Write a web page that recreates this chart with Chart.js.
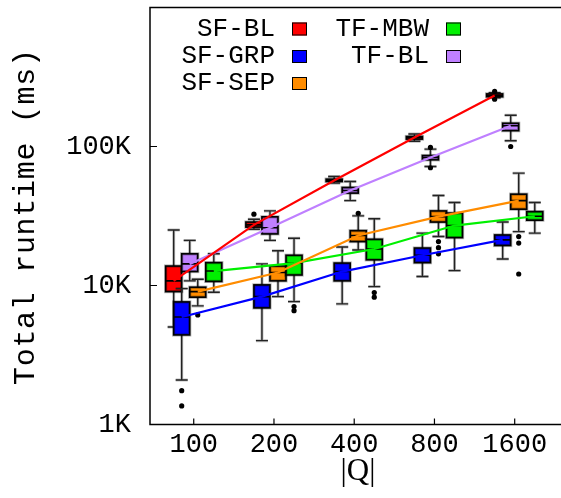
<!DOCTYPE html>
<html>
<head>
<meta charset="utf-8">
<script src="https://cdn.jsdelivr.net/npm/chart.js@4.4.0/dist/chart.umd.min.js"></script>
<style>
	html, body { margin: 0; padding: 0; background: #fff; }
	#wrap { width: 561px; height: 498px; }
</style>
</head>
<body>
<div id="wrap"><canvas id="grafico"></canvas></div>
<script>
// Categories of the x axis (|Q|) and y ticks
const categories = ["100", "200", "400", "800", "1600"];
const yTicks = [1000, 10000, 100000];

// Per category: [low whisker, q1, median, q3, high whisker] in ms
const sfBl = [[5030, 9040, 10800, 13800, 25100], [25400, 26300, 27300, 28600, 30000], [54500, 56000, 56900, 58200, 60800], [109000, 113000, 116000, 118000, 123000], [224000, 228000, 233000, 239000, 244000]];
const sfGrp = [[2090, 4410, 5940, 7620, 9500], [4010, 6900, 8320, 10100, 14300], [7370, 10800, 12600, 14500, 18900], [11600, 14600, 16500, 18600, 23800], [15500, 19400, 21300, 23100, 28600]];
const sfSep = [[7130, 8240, 9040, 9720, 11100], [8320, 10800, 12400, 13800, 17800], [18000, 20700, 22900, 24800, 31700], [22500, 28600, 31300, 34400, 44400], [24400, 35400, 40800, 45400, 64300]];
const tfMbw = [[8950, 10700, 12700, 14600, 16900], [7660, 11900, 14500, 16500, 21900], [9820, 15300, 18300, 21500, 30200], [12800, 22100, 27000, 33200, 39500], [23800, 29500, 31500, 34000, 39500]];
const tfBl = [[10800, 12600, 14300, 16900, 21100], [21100, 23500, 26000, 31200, 34400], [40800, 46200, 48200, 50700, 56000], [71800, 80200, 83400, 86100, 95700], [110000, 130000, 141000, 147000, 168000]];

// Outliers per category
const sfBlOut = [[], [32600], [], [], [249000, 219000]];
const sfGrpOut = [[1750, 1360], [], [], [], []];
const sfSepOut = [[6140], [], [33100], [20700, 18700, 16900], [22500, 20200, 12100]];
const tfMbwOut = [[], [7050, 6590], [8890, 8240], [], []];
const tfBlOut = [[], [], [], [98400, 70300], [100000]];

// Series, in drawing order
const series = [
	{ label: "SF-BL", stats: sfBl, out: sfBlOut, color: "#ff0000", offset: -0.25 },
	{ label: "SF-GRP", stats: sfGrp, out: sfGrpOut, color: "#0000ff", offset: -0.15 },
	{ label: "TF-BL", stats: tfBl, out: tfBlOut, color: "#bf80ff", offset: -0.05 },
	{ label: "SF-SEP", stats: sfSep, out: sfSepOut, color: "#ff8c00", offset: 0.05 },
	{ label: "TF-MBW", stats: tfMbw, out: tfMbwOut, color: "#00f000", offset: 0.25 },
];
const legendCols = [["SF-BL", "SF-GRP", "SF-SEP"], ["TF-MBW", "TF-BL"]];

const boxWidth = 0.2;
const capWidth = 0.15;
const monoFont = '"Liberation Mono", "DejaVu Sans Mono", monospace';

// Box plots drawn under the median lines
const boxPlugin = {
	id: "boxes",
	beforeDatasetsDraw(chart) {
		const { ctx, chartArea, scales } = chart;
		const x = scales.x;
		const y = scales.y;
		ctx.save();
		ctx.beginPath();
		ctx.rect(chartArea.left, chartArea.top, chartArea.right - chartArea.left, chartArea.bottom - chartArea.top);
		ctx.clip();
		for (const s of series) {
			s.stats.forEach((st, i) => {
				const cx = x.getPixelForValue(i + s.offset);
				const hw = x.getPixelForValue(i + s.offset + boxWidth / 2) - cx;
				const cw = x.getPixelForValue(i + s.offset + capWidth / 2) - cx;
				const [lo, q1, med, q3, hi] = st.map((v) => y.getPixelForValue(v));

				// whiskers
				for (const pass of [["rgba(0,0,0,0.25)", 3], ["#222", 1.4]]) {
					ctx.strokeStyle = pass[0];
					ctx.lineWidth = pass[1];
					ctx.beginPath();
					ctx.moveTo(cx, lo); ctx.lineTo(cx, q1);
					ctx.moveTo(cx, q3); ctx.lineTo(cx, hi);
					ctx.moveTo(cx - cw, lo); ctx.lineTo(cx + cw, lo);
					ctx.moveTo(cx - cw, hi); ctx.lineTo(cx + cw, hi);
					ctx.stroke();
				}

				// box
				ctx.fillStyle = s.color;
				ctx.fillRect(cx - hw, q3, hw * 2, q1 - q3);
				ctx.strokeStyle = "rgba(0,0,0,0.3)";
				ctx.lineWidth = 3.2;
				ctx.strokeRect(cx - hw, q3, hw * 2, q1 - q3);
				ctx.strokeStyle = "#000";
				ctx.lineWidth = 1.6;
				ctx.strokeRect(cx - hw, q3, hw * 2, q1 - q3);
				ctx.beginPath();
				ctx.moveTo(cx - hw, med); ctx.lineTo(cx + hw, med);
				ctx.stroke();

				// outliers
				ctx.fillStyle = "#000";
				for (const o of s.out[i]) {
					ctx.beginPath();
					ctx.arc(cx, y.getPixelForValue(o), 2.6, 0, Math.PI * 2);
					ctx.fill();
				}
			});
		}
		ctx.restore();
	},
	afterDraw(chart) {
		const { ctx, chartArea, scales } = chart;
		const x = scales.x;
		const y = scales.y;
		ctx.save();

		// frame (no right side)
		ctx.strokeStyle = "#000";
		ctx.lineWidth = 1.5;
		ctx.beginPath();
		ctx.moveTo(chartArea.right, chartArea.top);
		ctx.lineTo(chartArea.left, chartArea.top);
		ctx.lineTo(chartArea.left, chartArea.bottom);
		ctx.lineTo(chartArea.right, chartArea.bottom);
		ctx.stroke();

		// inward ticks
		ctx.lineWidth = 1.2;
		ctx.beginPath();
		categories.forEach((c, i) => {
			const px = x.getPixelForValue(i);
			ctx.moveTo(px, chartArea.bottom);
			ctx.lineTo(px, chartArea.bottom - 6);
		});
		yTicks.forEach((t) => {
			const py = y.getPixelForValue(t);
			ctx.moveTo(chartArea.left, py);
			ctx.lineTo(chartArea.left + 7, py);
		});
		ctx.stroke();

		// legend
		ctx.font = "26px " + monoFont;
		ctx.textAlign = "right";
		ctx.textBaseline = "middle";
		ctx.fillStyle = "#000";
		const colText = [275, 429];
		const colBox = [292, 446];
		const rowY = [29, 56.5, 83.5];
		legendCols.forEach((col, c) => {
			col.forEach((name, r) => {
				const s = series.find((e) => e.label == name);
				ctx.fillStyle = "#000";
				ctx.fillText(name, colText[c], rowY[r]);
				ctx.fillStyle = s.color;
				ctx.fillRect(colBox[c], rowY[r] - 6.5, 15, 13);
				ctx.lineWidth = 1;
				ctx.strokeStyle = "#000";
				ctx.strokeRect(colBox[c] + 0.5, rowY[r] - 6, 14, 12);
			});
		});

		// axis titles
		ctx.fillStyle = "#000";
		ctx.font = "30px " + monoFont;
		ctx.textAlign = "left";
		ctx.textBaseline = "alphabetic";
		ctx.save();
		ctx.translate(34, 385);
		ctx.rotate(-Math.PI / 2);
		ctx.letterSpacing = "0.7px";
		ctx.fillText("Total runtime (ms)", 0, 0);
		ctx.restore();

		ctx.font = '31px "Liberation Serif", serif';
		ctx.textAlign = "center";
		ctx.textBaseline = "middle";
		ctx.fillText("|Q|", 358, 472);
		ctx.restore();
	},
};

// Median lines
const datasets = series.map((s) => ({
	label: s.label,
	data: s.stats.map((st, i) => ({ x: i + s.offset, y: st[2] })),
	borderColor: s.color,
	backgroundColor: s.color,
	borderWidth: 2.2,
	pointRadius: 0,
	tension: 0,
}));

let grafico = new Chart(document.getElementById("grafico"), {
	type: "line",
	data: { datasets: datasets },
	plugins: [boxPlugin],
	options: {
		responsive: true,
		maintainAspectRatio: false,
		animation: false,
		layout: { padding: { top: 7.5, left: 0, right: 0, bottom: 0 } },
		plugins: {
			legend: { display: false },
			tooltip: { enabled: false },
		},
		scales: {
			x: {
				type: "linear",
				min: -0.545,
				max: 4.577,
				grid: { display: false, drawTicks: false },
				border: { display: false },
				afterBuildTicks: (s) => {
					s.ticks = categories.map((c, i) => ({ value: i }));
				},
				afterFit: (s) => {
					s.height = 73.5;
					s.paddingLeft = 0;
					s.paddingRight = 0;
				},
				ticks: {
					autoSkip: false,
					maxRotation: 0,
					padding: 4,
					color: "#000",
					font: { family: monoFont, size: 27 },
					callback: (v) => categories[Math.round(v)],
				},
			},
			y: {
				type: "logarithmic",
				min: 1000,
				max: 1000000,
				grid: { display: false, drawTicks: false },
				border: { display: false },
				afterBuildTicks: (s) => {
					s.ticks = yTicks.map((v) => ({ value: v }));
				},
				afterFit: (s) => {
					s.width = 150;
					s.paddingTop = 0;
					s.paddingBottom = 0;
				},
				ticks: {
					padding: 19,
					color: "#000",
					font: { family: monoFont, size: 27 },
					callback: (v) => v / 1000 + "K",
				},
			},
		},
	},
});
</script>
</body>
</html>
